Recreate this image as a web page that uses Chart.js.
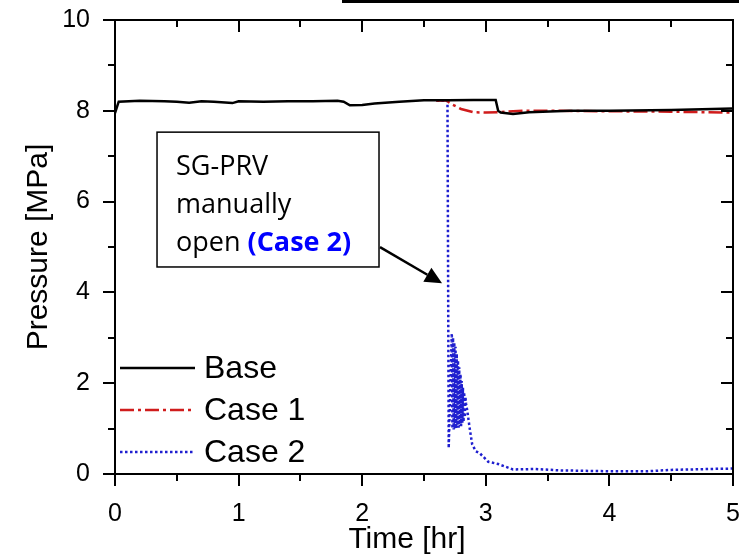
<!DOCTYPE html>
<html lang="en">
<head>
<meta charset="UTF-8">
<title>SG pressure</title>
<script src="https://cdn.jsdelivr.net/npm/chart.js"></script>
<style>
  html, body { margin: 0; padding: 0; background: #fff; }
  canvas { display: block; }
</style>
</head>
<body>
<canvas id="pressureChart" width="739" height="557"></canvas>
<script>
// values (time in hr, pressure in MPa)
var baseTime = [0, 0.03, 0.2, 0.4, 0.5, 0.6, 0.7, 0.8, 0.95, 1.0, 1.2, 1.4, 1.6, 1.8, 1.85, 1.9, 2.0, 2.1, 2.3, 2.5, 2.7, 2.9, 3.08, 3.1, 3.12, 3.22, 3.35, 3.68, 4.0, 4.5, 5.0];
var basePressure = [7.95, 8.2, 8.22, 8.21, 8.2, 8.18, 8.21, 8.2, 8.17, 8.21, 8.2, 8.21, 8.21, 8.22, 8.2, 8.12, 8.13, 8.16, 8.2, 8.23, 8.23, 8.24, 8.24, 8.0, 7.96, 7.93, 7.97, 8.0, 8.0, 8.02, 8.05];

var case1Time = [2.6, 2.68, 2.72, 2.8, 2.9, 3.0, 3.1, 3.3, 3.6, 4.0, 4.5, 5.0];
var case1Pressure = [8.22, 8.23, 8.15, 8.04, 7.97, 7.96, 7.97, 8.0, 8.0, 7.99, 7.98, 7.96];

var case2Time = [2.6, 2.69, 2.70, 2.725, 2.730, 2.735, 2.740, 2.745, 2.750, 2.755, 2.760, 2.765, 2.770, 2.775, 2.780, 2.785, 2.790, 2.795, 2.800, 2.805, 2.810, 2.815, 2.820, 2.825, 2.830, 2.835, 2.840, 2.85, 2.87, 2.89, 2.92, 2.95, 2.98, 3.02, 3.1, 3.18, 3.22, 3.4, 3.6, 3.8, 4.0, 4.3, 4.5, 4.8, 5.0];
var case2Pressure = [8.22, 8.22, 0.57, 3.1, 1.0, 3.0, 0.98, 2.9, 1.0, 2.8, 1.0, 2.65, 1.02, 2.5, 1.02, 2.35, 1.05, 2.2, 1.05, 2.05, 1.1, 1.9, 1.15, 1.8, 1.25, 1.7, 1.55, 1.4, 1.0, 0.65, 0.5, 0.46, 0.38, 0.27, 0.22, 0.14, 0.1, 0.11, 0.08, 0.07, 0.06, 0.06, 0.09, 0.11, 0.12];

var xTickValues = [0, 1, 2, 3, 4, 5];
var xMinorTicks = [0.5, 1.5, 2.5, 3.5, 4.5];
var yTickValues = [0, 2, 4, 6, 8, 10];
var yMinorTicks = [1, 3, 5, 7, 9];

var xTitle = 'Time [hr]';
var yTitle = 'Pressure [MPa]';

// callout box, in data units
var noteBox = { left: 0.34, right: 2.136, top: 7.53, bottom: 4.56 };
var noteArrowTip = { x: 2.646, y: 4.2 };

function toPoints(xs, ys) {
    return xs.map(function(x, i) { return { x: x, y: ys[i] }; });
}

var sansFont = "'Liberation Sans', Arial, sans-serif";

var framePlugin = {
    id: 'frameTicks',
    afterDraw: function(chart) {
        var ctx = chart.ctx;
        var a = chart.chartArea;
        var xs = chart.scales.x, ys = chart.scales.y;
        ctx.save();

        // strip left over from the figure above
        ctx.fillStyle = '#000';
        ctx.fillRect(342, 0, 397, 3);

        ctx.strokeStyle = '#000';
        ctx.lineWidth = 2;
        ctx.strokeRect(a.left, a.top, a.right - a.left, a.bottom - a.top);

        ctx.beginPath();
        xTickValues.concat(xMinorTicks).forEach(function(v) {
            var px = Math.round(xs.getPixelForValue(v));
            var len = xTickValues.indexOf(v) >= 0 ? 12 : 7;
            ctx.moveTo(px, a.bottom); ctx.lineTo(px, a.bottom + len);
            ctx.moveTo(px, a.top); ctx.lineTo(px, a.top + len);
        });
        yTickValues.concat(yMinorTicks).forEach(function(v) {
            var py = Math.round(ys.getPixelForValue(v));
            var len = yTickValues.indexOf(v) >= 0 ? 12 : 7;
            ctx.moveTo(a.left, py); ctx.lineTo(a.left - len, py);
            ctx.moveTo(a.right, py); ctx.lineTo(a.right - len, py);
        });
        ctx.stroke();

        // x title sits a little left of centre in the original
        ctx.fillStyle = '#000';
        ctx.font = '30px ' + sansFont;
        ctx.textAlign = 'center';
        ctx.textBaseline = 'alphabetic';
        ctx.fillText(xTitle, a.left + 292, 548);

        // legend, lower left inside the plot
        ctx.font = '32px ' + sansFont;
        ctx.textBaseline = 'middle';
        ctx.textAlign = 'left';
        chart.data.datasets.forEach(function(ds, i) {
            var rowY = a.bottom - 106 + i * 42;
            ctx.save();
            ctx.strokeStyle = ds.borderColor;
            ctx.lineWidth = ds.borderWidth;
            ctx.setLineDash(ds.borderDash || []);
            ctx.beginPath();
            ctx.moveTo(a.left + 5, rowY);
            ctx.lineTo(a.left + 80, rowY);
            ctx.stroke();
            ctx.restore();
            ctx.fillStyle = '#000';
            ctx.fillText(ds.label, a.left + 89, rowY + 1);
        });

        // callout
        var bl = xs.getPixelForValue(noteBox.left), br = xs.getPixelForValue(noteBox.right);
        var bt = ys.getPixelForValue(noteBox.top), bb = ys.getPixelForValue(noteBox.bottom);
        ctx.lineWidth = 1.5;
        ctx.strokeStyle = '#000';
        ctx.fillStyle = '#fff';
        ctx.fillRect(bl, bt, br - bl, bb - bt);
        ctx.strokeRect(bl, bt, br - bl, bb - bt);

        ctx.fillStyle = '#000';
        ctx.textBaseline = 'alphabetic';
        ctx.font = "27px 'Open Sans', sans-serif";
        var tx = bl + 19;
        ctx.fillText('SG-PRV', tx, bt + 43);
        ctx.fillText('manually', tx, bt + 81);
        ctx.fillText('open ', tx, bt + 119);
        var w = ctx.measureText('open ').width;
        ctx.font = "bold 27px 'Open Sans', sans-serif";
        ctx.fillStyle = '#0000ff';
        ctx.fillText('(Case 2)', tx + w, bt + 119);

        // arrow
        var sx = br + 1, sy = bt + 115;
        var ex = xs.getPixelForValue(noteArrowTip.x), ey = ys.getPixelForValue(noteArrowTip.y);
        var ang = Math.atan2(ey - sy, ex - sx);
        var hl = 17, hw = 8;
        var bx = ex - hl * Math.cos(ang), by = ey - hl * Math.sin(ang);
        ctx.strokeStyle = '#000';
        ctx.lineWidth = 2.5;
        ctx.beginPath();
        ctx.moveTo(sx, sy);
        ctx.lineTo(bx, by);
        ctx.stroke();
        ctx.fillStyle = '#000';
        ctx.beginPath();
        ctx.moveTo(ex, ey);
        ctx.lineTo(bx + hw * Math.sin(ang), by - hw * Math.cos(ang));
        ctx.lineTo(bx - hw * Math.sin(ang), by + hw * Math.cos(ang));
        ctx.closePath();
        ctx.fill();

        ctx.restore();
    }
};

var ctx = document.getElementById('pressureChart').getContext('2d');
var pressureChart = new Chart(ctx, {
    type: 'line',
    data: {
        datasets: [{
            label: 'Base',
            data: toPoints(baseTime, basePressure),
            borderColor: '#000000',
            borderWidth: 2.5,
            pointRadius: 0,
            tension: 0
        }, {
            label: 'Case 1',
            data: toPoints(case1Time, case1Pressure),
            borderColor: '#d01c1c',
            borderWidth: 2.5,
            borderDash: [14, 4, 3, 4],
            pointRadius: 0,
            tension: 0
        }, {
            label: 'Case 2',
            data: toPoints(case2Time, case2Pressure),
            borderColor: '#1f1fcf',
            borderWidth: 2.5,
            borderDash: [2.5, 2.5],
            pointRadius: 0,
            tension: 0
        }]
    },
    options: {
        responsive: false,
        animation: false,
        devicePixelRatio: 1,
        layout: { padding: { top: 20, right: 6, left: 0, bottom: 0 } },
        plugins: {
            tooltip: { enabled: false },
            legend: { display: false }
        },
        scales: {
            x: {
                type: 'linear',
                min: 0,
                max: 5,
                afterBuildTicks: function(scale) {
                    scale.ticks = xTickValues.map(function(v) { return { value: v }; });
                },
                afterFit: function(scale) {
                    scale.height = 83;
                    scale.paddingLeft = 0;
                    scale.paddingRight = 0;
                },
                grid: { display: false, drawTicks: false },
                border: { display: false },
                ticks: {
                    padding: 25,
                    maxRotation: 0,
                    color: '#000',
                    font: { family: sansFont, size: 25 }
                }
            },
            y: {
                min: 0,
                max: 10,
                afterBuildTicks: function(scale) {
                    scale.ticks = yTickValues.map(function(v) { return { value: v }; });
                },
                afterFit: function(scale) {
                    scale.width = 115;
                    scale.paddingTop = 0;
                    scale.paddingBottom = 0;
                },
                grid: { display: false, drawTicks: false },
                border: { display: false },
                ticks: {
                    padding: 25,
                    color: '#000',
                    font: { family: sansFont, size: 25 }
                },
                title: {
                    display: true,
                    text: yTitle,
                    color: '#000',
                    padding: { top: 21, bottom: 0 },
                    font: { family: sansFont, size: 30 }
                }
            }
        }
    },
    plugins: [framePlugin]
});
</script>
</body>
</html>
